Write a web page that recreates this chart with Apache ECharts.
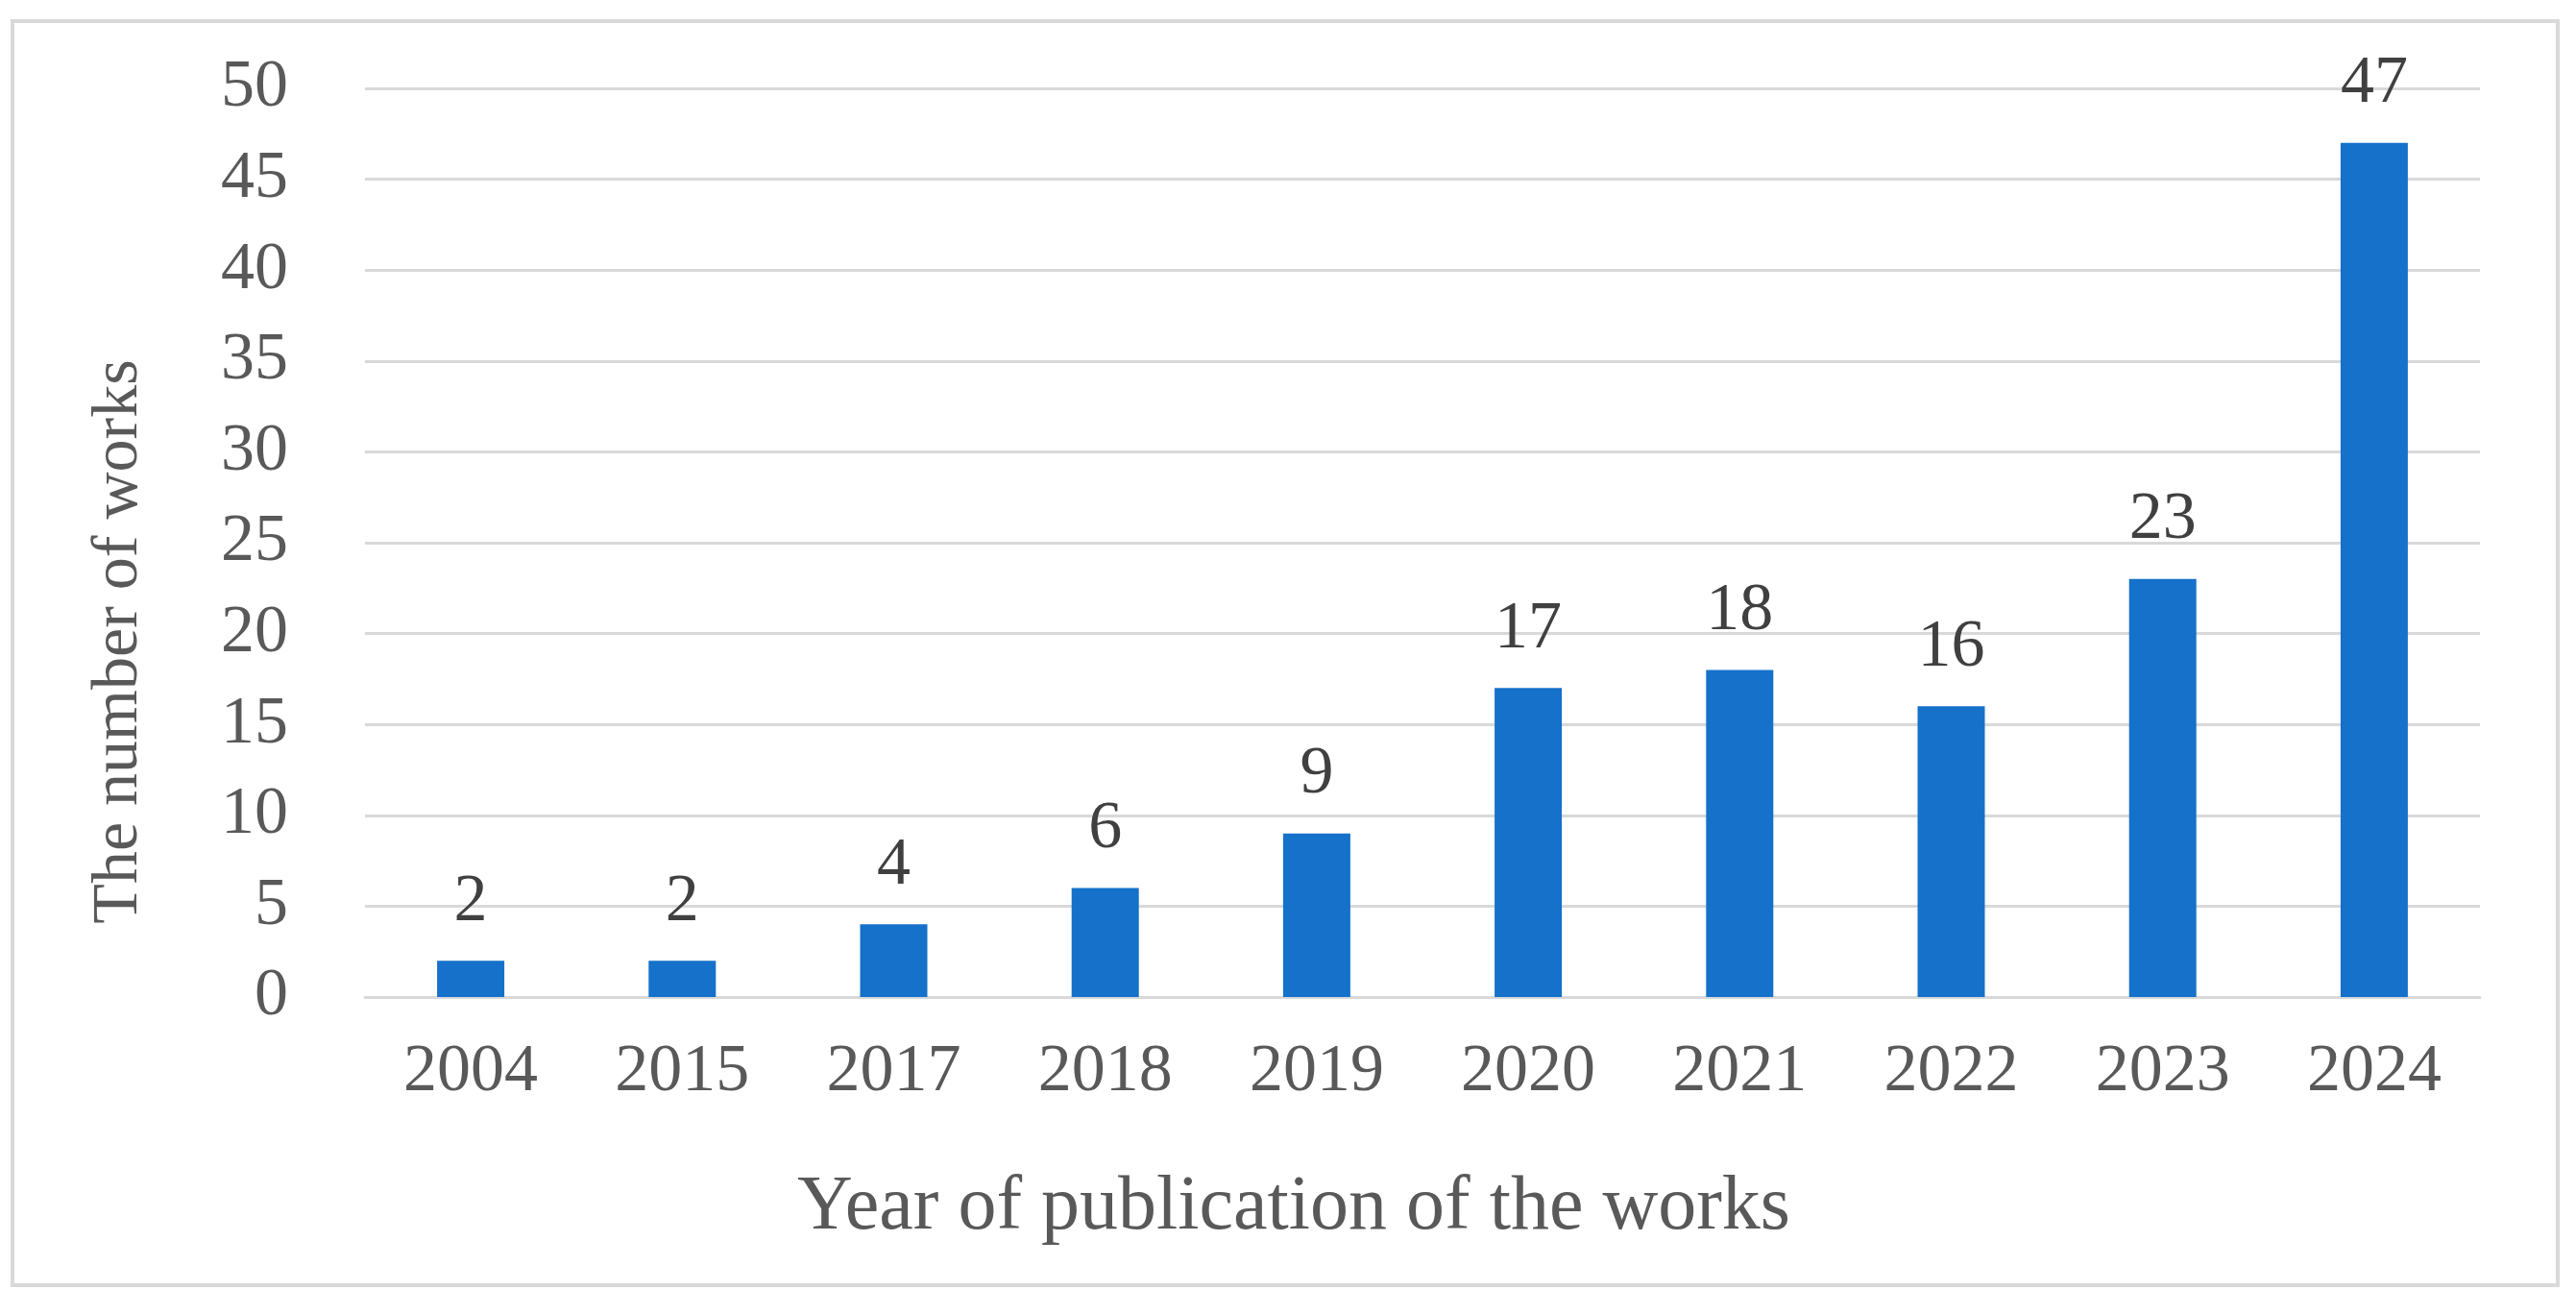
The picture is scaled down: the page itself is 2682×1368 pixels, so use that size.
<!DOCTYPE html>
<html>
<head>
<meta charset="utf-8">
<script src="https://cdn.jsdelivr.net/npm/echarts@6/dist/echarts.min.js"></script>
<style>
  html, body { margin: 0; padding: 0; background: #fff; }
  #chart { width: 2682px; height: 1368px; }
</style>
</head>
<body>
<div id="chart"></div>
<script>
var years = ['2004', '2015', '2017', '2018', '2019', '2020', '2021', '2022', '2023', '2024'];
var works = [2, 2, 4, 6, 9, 17, 18, 16, 23, 47];
var yMin = 0, yMax = 50, yStep = 5;

var serif = '"Liberation Serif", "DejaVu Serif", serif';
var gridColor = '#d9d9d9';

var chart = echarts.init(document.getElementById('chart'));

var option = {
  backgroundColor: '#fff',
  animation: false,
  grid: { left: 380, right: 100, top: 92, bottom: 330, containLabel: false },
  xAxis: {
    type: 'category',
    data: years,
    axisTick: { show: false },
    axisLine: { lineStyle: { color: gridColor, width: 3 } },
    axisLabel: { color: '#595959', fontFamily: serif, fontSize: 70, margin: 44 }
  },
  yAxis: {
    type: 'value',
    min: yMin,
    max: yMax,
    interval: yStep,
    axisLine: { show: false },
    axisTick: { show: false },
    axisLabel: { color: '#595959', fontFamily: serif, fontSize: 70, margin: 80 },
    splitLine: { lineStyle: { color: gridColor, width: 3 } }
  },
  series: [{
    type: 'bar',
    data: works,
    barWidth: 70,
    itemStyle: { color: '#1571c9' },
    label: {
      show: true,
      position: 'top',
      distance: 26,
      color: '#404040',
      fontFamily: serif,
      fontSize: 70
    }
  }],
  graphic: [
    {
      type: 'rect',
      shape: { x: 13, y: 22, width: 2650, height: 1316 },
      style: { fill: 'none', stroke: gridColor, lineWidth: 4 },
      silent: true
    },
    {
      type: 'text',
      x: 1347, y: 1258,
      style: {
        text: 'Year of publication of the works',
        fill: '#595959', fontFamily: serif, fontSize: 80,
        textAlign: 'center', textVerticalAlign: 'middle'
      }
    },
    {
      type: 'text',
      x: 124, y: 668,
      rotation: Math.PI / 2,
      style: {
        text: 'The number of works',
        fill: '#595959', fontFamily: serif, fontSize: 68,
        textAlign: 'center', textVerticalAlign: 'middle'
      }
    }
  ]
};

chart.setOption(option);
</script>
</body>
</html>
